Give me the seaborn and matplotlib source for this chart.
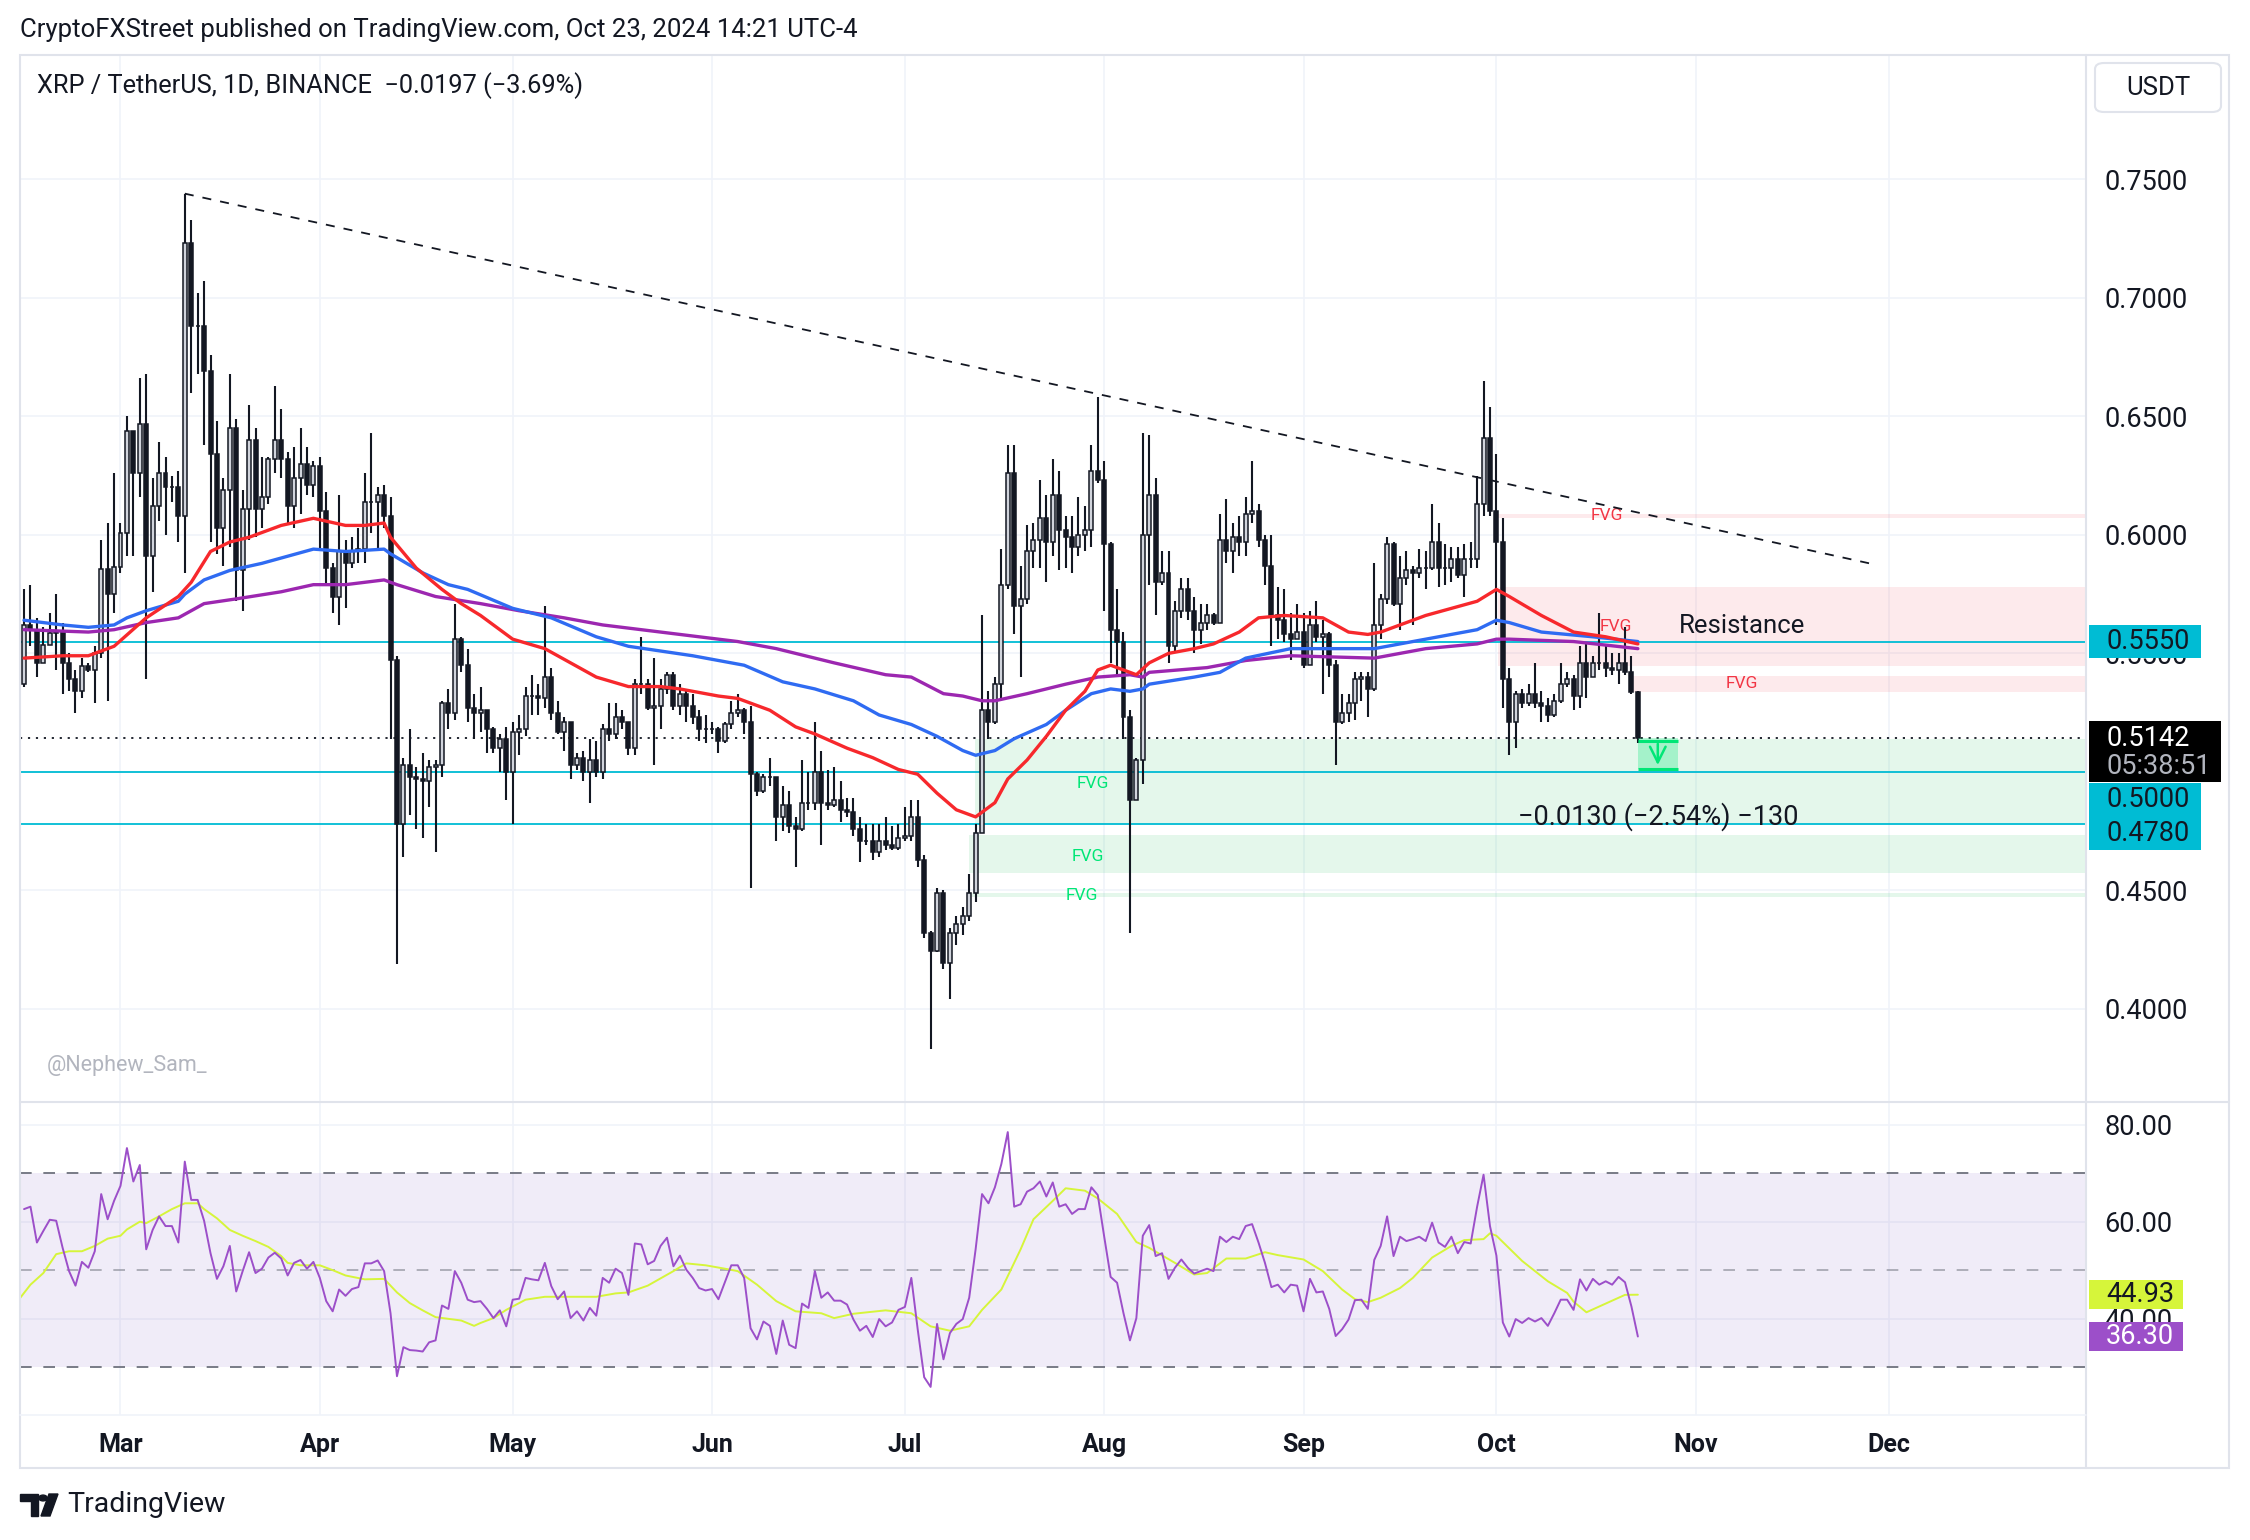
import numpy as np
import pandas as pd
import seaborn as sns
import matplotlib.pyplot as plt
import matplotlib.transforms as mtransforms
from matplotlib.patches import Rectangle, FancyBboxPatch, Circle, Polygon

sns.set_style('white')
plt.rcParams['font.family'] = ['Roboto', 'DejaVu Sans']

# ---- daily candles, day index 0 = 1 Mar 2024 (first candle 15 Feb, last 23 Oct) ----
first_day = -15
first_open = 0.537
closes = [
    .562, .560, .546, .5535, .5585, .559, .546, .539, .534, .5445, .543, .550, .5855, .575, .5865,
    .601, .644, .626, .647, .591, .612, .626, .620, .620, .608,
    .723, .688, .688, .669, .634, .603, .619, .645, .585, .611,
    .640, .611, .616, .632, .640, .632, .612, .624, .630, .621,
    .629, .610, .586, .574, .593, .588, .593, .594, .614, .614,
    .617, .608, .547, .478, .503, .498, .497, .496, .502, .503,
    .529, .525, .556, .545, .527, .525, .526, .518, .510, .514,
    .500, .517, .518, .532, .532, .531, .540, .525, .517, .521,
    .503, .506, .500, .505, .500, .518, .516, .523, .521, .510,
    .537, .537, .527, .528, .535, .541, .528, .533, .528, .523,
    .518, .518, .518, .513, .520, .525, .526, .521, .499, .492,
    .498, .498, .481, .486, .477, .476, .487, .487, .500, .487,
    .486, .488, .484, .483, .476, .471, .471, .466, .471, .469,
    .468, .472, .473, .481, .463, .432, .4245, .449, .4195, .432,
    .436, .439, .449, .474, .526, .521, .537, .579, .626, .570,
    .573, .593, .598, .607, .597, .617, .602, .599, .595, .600,
    .602, .627, .623, .596, .560, .555, .523, .488, .505, .600,
    .617, .580, .584, .553, .568, .577, .568, .560, .563, .566,
    .563, .598, .593, .599, .597, .609, .610, .598, .587, .566,
    .564, .558, .556, .559, .545, .562, .557, .558, .545, .521,
    .525, .529, .539, .540, .535, .562, .573, .596, .571, .582,
    .585, .584, .586, .586, .597, .586, .586, .590, .583, .590,
    .590, .613, .641, .610, .597, .539, .521, .533, .529, .533,
    .529, .528, .524, .530, .537, .539, .532, .546, .540, .546,
    .546, .544, .543, .546, .542, .5339, .5142,
]
highs = [
    .577, .579, .565, .561, .567, .575, .563, .550, .543, .548, .546, .553, .598, .605, .626,
    .605, .650, .644, .666, .668, .624, .639, .633, .625, .627,
    .744, .733, .702, .707, .676, .648, .624, .668, .649, .619,
    .655, .645, .633, .633, .663, .653, .635, .637, .645, .637,
    .631, .633, .618, .588, .617, .598, .599, .603, .626, .643,
    .620, .621, .616, .549, .506, .518, .502, .508, .505, .505,
    .530, .535, .571, .557, .552, .533, .536, .526, .519, .516,
    .519, .521, .524, .536, .541, .537, .570, .544, .530, .523,
    .521, .508, .509, .514, .513, .520, .529, .529, .526, .521,
    .539, .557, .539, .548, .539, .542, .542, .537, .535, .533,
    .526, .524, .521, .519, .521, .530, .533, .527, .528, .500,
    .499, .506, .497, .494, .492, .481, .505, .500, .521, .509,
    .501, .502, .496, .489, .489, .481, .478, .478, .478, .481,
    .477, .478, .485, .488, .488, .465, .433, .451, .450, .434,
    .439, .443, .457, .478, .566, .534, .540, .594, .638, .638,
    .587, .604, .605, .623, .617, .632, .627, .608, .608, .616,
    .612, .638, .658, .631, .597, .577, .559, .526, .506, .643,
    .642, .624, .593, .593, .572, .582, .582, .574, .571, .571,
    .567, .609, .615, .605, .608, .616, .631, .613, .600, .600,
    .578, .577, .567, .571, .567, .568, .572, .564, .559, .547,
    .533, .533, .542, .542, .542, .588, .575, .599, .597, .591,
    .593, .587, .594, .593, .613, .605, .596, .595, .595, .596,
    .597, .625, .665, .654, .634, .607, .544, .534, .535, .537,
    .546, .534, .531, .533, .546, .542, .541, .553, .555, .549,
    .567, .553, .550, .550, .561, .549, .534,
]
lows = [
    .536, .553, .540, .547, .554, .543, .533, .534, .525, .531, .542, .529, .548, .530, .567,
    .584, .591, .591, .616, .539, .576, .606, .600, .614, .597,
    .584, .660, .668, .638, .597, .592, .587, .595, .572, .568,
    .598, .599, .603, .613, .626, .624, .605, .603, .609, .617,
    .616, .594, .579, .567, .562, .569, .586, .588, .588, .601,
    .593, .603, .514, .419, .464, .482, .476, .472, .485, .466,
    .498, .518, .522, .542, .521, .514, .517, .508, .508, .500,
    .488, .478, .507, .515, .524, .524, .527, .522, .516, .509,
    .497, .501, .496, .487, .498, .497, .513, .514, .518, .507,
    .507, .533, .526, .503, .518, .533, .526, .524, .521, .520,
    .513, .512, .516, .508, .512, .518, .523, .516, .451, .490,
    .491, .494, .471, .475, .474, .460, .475, .484, .484, .469,
    .484, .485, .479, .481, .473, .462, .469, .463, .464, .467,
    .467, .467, .471, .471, .460, .430, .383, .424, .417, .404,
    .427, .431, .437, .445, .474, .514, .520, .530, .577, .558,
    .540, .571, .586, .586, .580, .591, .585, .586, .584, .591,
    .593, .595, .622, .568, .546, .541, .514, .432, .488, .495,
    .579, .566, .579, .546, .550, .565, .564, .550, .554, .560,
    .562, .563, .588, .584, .591, .591, .605, .595, .579, .553,
    .556, .555, .547, .563, .544, .546, .555, .533, .540, .503,
    .520, .521, .522, .530, .523, .534, .556, .571, .570, .560,
    .579, .562, .582, .577, .585, .578, .579, .580, .582, .574,
    .586, .586, .608, .608, .562, .527, .507, .510, .527, .528,
    .527, .521, .521, .523, .529, .536, .526, .527, .531, .542,
    .543, .540, .541, .537, .541, .533, .512,
]

# RSI(14), one value per candle
rsi_vals = [
    62.6, 63.1, 55.7, 58.1, 60.4, 60.2, 54.6, 49.8, 46.8, 51.7,
    50.5, 53.9, 65.7, 60.5, 64.3, 67.4, 75.2, 68.3, 71.7, 54.3,
    58.3, 61.1, 59.1, 59.1, 55.7, 72.4, 64.5, 64.5, 60.2, 53.5,
    48.2, 50.8, 55.0, 45.6, 49.8, 53.7, 49.4, 50.3, 52.6, 53.6,
    52.4, 48.9, 51.5, 52.1, 50.3, 51.7, 48.4, 43.6, 41.5, 46.0,
    44.7, 46.1, 46.5, 51.4, 51.4, 52.0, 49.8, 41.1, 28.1, 34.1,
    33.5, 33.4, 33.2, 35.1, 35.5, 42.7, 42.0, 49.8, 47.4, 43.9,
    43.4, 43.6, 42.0, 40.1, 41.7, 38.4, 43.9, 44.1, 48.4, 48.1,
    47.9, 51.5, 46.7, 44.0, 45.6, 40.1, 41.5, 39.6, 42.2, 40.6,
    48.4, 47.4, 50.3, 49.4, 44.9, 55.5, 55.3, 51.2, 51.9, 55.0,
    56.7, 50.8, 53.0, 50.1, 48.4, 46.3, 45.8, 46.1, 44.0, 47.5,
    51.0, 51.0, 48.4, 38.0, 35.7, 39.4, 38.5, 32.7, 39.6, 34.6,
    33.9, 43.1, 42.2, 49.8, 44.3, 45.4,
    43.7, 43.7, 42.9, 39.8, 37.5, 38.5, 36.2, 39.9, 38.4, 39.2,
    41.8, 42.4, 48.4, 37.7, 27.9, 25.9, 38.9, 31.6, 37.0, 38.9,
    39.9, 44.3, 54.3, 65.7, 63.8, 67.1, 71.9, 78.5, 63.1, 63.6,
    66.2, 66.9, 68.3, 65.2, 68.1, 63.1, 63.6, 61.6, 62.6, 62.6,
    67.1, 65.5, 56.9, 48.6, 47.4, 41.1, 35.5, 40.1, 57.1, 59.3,
    52.9, 53.5, 48.2, 50.5, 52.2, 50.5, 49.3, 49.8, 50.3, 49.8,
    56.9, 55.8, 56.9, 56.4, 59.1, 59.5, 55.7, 51.5, 46.5, 47.0,
    45.4, 47.0, 46.8, 41.5, 48.2, 45.4, 45.6, 42.0, 36.4, 37.8,
    39.8, 43.8, 43.9, 42.0, 52.1, 55.0, 61.1, 52.9, 56.9, 56.0,
    56.4, 56.9, 56.0, 59.8, 55.7, 54.8, 56.9, 53.5, 55.8, 55.5,
    63.1, 69.7, 59.1, 53.0, 39.2, 36.3, 39.9, 39.1, 40.1, 39.4,
    40.1, 38.5, 41.1, 43.9, 43.9, 41.8, 48.1, 45.8, 48.2, 47.0,
    47.7, 47.0, 48.6, 47.5, 42.5, 36.3,
]

# RSI-based moving average (yellow), read at sample days
sig_days = [-16, -14, -12, -10, -8, -6, -4, -2, 0, 1, 3, 4, 6, 8, 10, 12, 13, 15, 17, 19,
            21, 23, 25, 26, 28, 31, 33, 35, 38, 41, 43, 45, 47, 49, 53, 55, 56, 58, 60, 63,
            66, 70, 74, 77, 79, 82, 86, 88, 91, 94, 96, 99, 102, 105, 109, 111, 114, 119, 123, 126,
            129, 132, 134, 137, 140, 142, 145, 147, 150, 152, 155, 158, 160, 164, 167, 169, 172, 175, 178, 180,
            184, 187, 190, 192, 194, 196, 199, 201, 204, 207, 209, 212, 213, 214, 218, 222, 225, 226, 228, 231,
            234, 236]
sig_vals = [43.6, 47.0, 49.4, 53.3, 53.9, 53.9, 55.0, 56.5, 57.1, 58.4, 60.0, 59.7, 61.1, 62.6, 63.8, 63.8, 62.6, 60.7, 58.3, 57.1,
            56.0, 54.8, 52.9, 51.5, 51.0, 51.0, 50.0, 48.9, 48.1, 48.2, 45.4, 43.2, 41.7, 40.3, 39.6, 38.5, 39.1, 40.1, 41.8, 43.9,
            44.5, 44.5, 44.5, 45.2, 45.4, 46.8, 49.8, 51.4, 51.0, 50.3, 49.8, 47.0, 43.6, 41.5, 41.1, 40.1, 41.0, 41.7, 41.1, 38.4,
            37.5, 38.4, 41.8, 46.0, 54.3, 60.5, 64.3, 66.9, 66.4, 64.8, 61.6, 55.8, 54.6, 51.5, 49.1, 49.4, 52.4, 52.4, 53.7, 53.1,
            52.2, 49.8, 46.0, 44.0, 43.4, 44.3, 46.3, 48.4, 52.6, 55.0, 56.2, 56.4, 57.6, 57.1, 51.9, 47.7, 45.3, 43.5, 41.3, 43.1,
            44.9, 44.93]

# moving averages read at sample days
red_days = [-15, -9, -5, -1, 4, 9, 11, 14, 17, 20, 25, 30, 35, 38, 41, 42, 46, 50, 53, 56,
            61, 66, 70, 74, 79, 84, 87, 93, 96, 101, 105, 108, 113, 117, 121, 124, 127, 130, 133, 136,
            138, 141, 144, 147, 150, 152, 154, 156, 158, 160, 163, 167, 170, 174, 177, 181, 187, 191, 194, 196,
            203, 211, 214, 216, 221, 226, 231, 236]
red_vals = [.548, .549, .549, .553, .565, .574, .580, .593, .597, .599, .604, .607, .604, .604, .605, .599, .586, .577, .571, .566,
            .556, .552, .546, .540, .536, .536, .535, .532, .531, .526, .519, .516, .510, .506, .501, .499, .491, .484, .481, .487,
            .497, .505, .515, .526, .534, .543, .545, .543, .541, .546, .550, .552, .554, .559, .565, .566, .565, .559, .558, .559,
            .566, .572, .577, .574, .566, .559, .557, .554]
blue_days = [-15, -9, -5, -1, 1, 4, 9, 10, 13, 17, 22, 30, 35, 41, 42, 47, 51, 54, 61, 67,
             74, 79, 84, 89, 97, 103, 108, 114, 118, 123, 127, 131, 133, 136, 139, 144, 147, 151, 154, 157,
             159, 160, 167, 171, 175, 182, 187, 195, 197, 211, 214, 216, 221, 229, 236]
blue_vals = [.564, .562, .561, .562, .565, .568, .572, .575, .581, .585, .588, .594, .593, .594, .592, .584, .579, .577, .569, .565,
             .557, .553, .551, .549, .545, .538, .535, .530, .524, .520, .515, .509, .507, .509, .514, .520, .526, .533, .535, .534,
             .535, .537, .540, .542, .548, .552, .552, .552, .553, .560, .564, .563, .559, .557, .555]
purple_days = [-15, -5, -1, 4, 9, 13, 18, 25, 30, 35, 41, 43, 49, 56, 62, 69, 75, 84, 96, 102,
               111, 119, 123, 128, 131, 134, 136, 141, 147, 152, 157, 159, 160, 169, 175, 182, 195, 203, 211, 214,
               216, 226, 236]
purple_vals = [.560, .559, .560, .563, .565, .571, .573, .576, .579, .579, .581, .579, .574, .571, .568, .565, .562, .559, .555, .552,
               .546, .541, .540, .533, .532, .530, .530, .533, .537, .540, .541, .540, .542, .544, .547, .549, .548, .552, .554, .556,
               .556, .555, .552]

# drawings
trend_days = [10, 272]
trend_prices = [0.744, 0.588]
levels = [0.555, 0.500, 0.478]
last_price = 0.5142
measure_change = -0.0130
red_fvg = [(214.3, 0.6071, 0.6089), (214.3, 0.5445, 0.5780), (234.8, 0.5339, 0.5403)]
green_fvg = [(132.9, 0.4780, 0.5138), (131.9, 0.4575, 0.4735), (132.5, 0.4474, 0.4489)]

month_days = [0, 31, 61, 92, 122, 153, 184, 214, 245, 275]
month_labels = ['Mar', 'Apr', 'May', 'Jun', 'Jul', 'Aug', 'Sep', 'Oct', 'Nov', 'Dec']
price_ticks = [0.40, 0.45, 0.50, 0.55, 0.60, 0.65, 0.70, 0.75]
rsi_ticks = [40, 60, 80]

# ---- frame ----
W, H = 2250, 1540
def fx(px):
    return px / W
def fy(py):
    return 1 - py / H

TXT = '#131722'
AXFS = 19.5
fig = plt.figure(figsize=(22.5, 15.4), dpi=100)
fig.patch.set_facecolor('white')
ax = fig.add_axes([fx(20), fy(1102), fx(2086) - fx(20), fy(55) - fy(1102)])
rax = fig.add_axes([fx(20), fy(1415), fx(2086) - fx(20), fy(1103) - fy(1415)], sharex=ax)

days = np.arange(first_day, first_day + len(closes))
df = pd.DataFrame({'day': days, 'close': closes, 'high': highs, 'low': lows})
df['open'] = [first_open] + closes[:-1]
df['top'] = df[['open', 'close', 'high']].max(axis=1)
df['bot'] = df[['open', 'close', 'low']].min(axis=1)
up = df[df['close'] >= df['open']]
dn = df[df['close'] < df['open']]

ext = 305.7
for a in (ax, rax):
    a.set_xlim(-15.63, ext)
    a.set_facecolor('white')
    for s in a.spines.values():
        s.set_visible(False)
    a.set_xticks(month_days)
    a.grid(True, color='#f0f3fa', lw=1.2)
    a.set_axisbelow(True)

# zones
for d0, lo, hi in red_fvg:
    ax.add_patch(Rectangle((d0, lo), ext - d0, hi - lo, facecolor='#f23645', alpha=0.1, lw=0, zorder=1))
for d0, lo, hi in green_fvg:
    ax.add_patch(Rectangle((d0, lo), ext - d0, hi - lo, facecolor='#22c55e', alpha=0.12, lw=0, zorder=1))

for lv in levels:
    ax.axhline(lv, color='#00bcd4', lw=1.3, zorder=2)
ax.axhline(last_price, color='#131722', lw=1.3, ls=(0, (1.2, 3.2)), zorder=2)

# candles
ax.vlines(df['day'], df['bot'], df['top'], color='#131722', lw=1.5, zorder=3)
ax.bar(up['day'], up['close'] - up['open'], bottom=up['open'], width=0.62,
       color='#d1d4dc', edgecolor='#131722', lw=1.1, zorder=4)
ax.bar(dn['day'], dn['open'] - dn['close'], bottom=dn['close'], width=0.62,
       color='#131722', edgecolor='#131722', lw=1.1, zorder=4)

# moving averages
sns.lineplot(x=purple_days, y=purple_vals, ax=ax, color='#9c27b0', lw=2.4, zorder=5)
sns.lineplot(x=blue_days, y=blue_vals, ax=ax, color='#2f6bf2', lw=2.4, zorder=5)
sns.lineplot(x=red_days, y=red_vals, ax=ax, color='#f7282c', lw=2.4, zorder=5)

ax.plot(trend_days, trend_prices, color='#131722', lw=1.3, ls=(0, (5, 5)), zorder=5)

# labels in the pane
fvg_fs = 12.5
ax.text(231.2, 0.6080, 'FVG', color='#f23645', fontsize=fvg_fs, ha='center', va='center', zorder=2)
ax.text(232.6, 0.5614, 'FVG', color='#f23645', fontsize=fvg_fs, ha='center', va='center', zorder=2)
ax.text(252.2, 0.5372, 'FVG', color='#f23645', fontsize=fvg_fs, ha='center', va='center', zorder=2)
ax.text(151.3, 0.4953, 'FVG', color='#00e676', fontsize=fvg_fs, ha='center', va='center', zorder=2)
ax.text(150.4, 0.4645, 'FVG', color='#00e676', fontsize=fvg_fs, ha='center', va='center', zorder=2)
ax.text(149.5, 0.4480, 'FVG', color='#00e676', fontsize=fvg_fs, ha='center', va='center', zorder=2)
ax.text(252.2, 0.5617, 'Resistance', color=TXT, fontsize=18.5, ha='center', va='center', zorder=6)

# measure tool
m_lo = last_price + measure_change
ax.add_patch(Rectangle((236, m_lo), 6.2, -measure_change, facecolor='#00e676', alpha=0.28, lw=0, zorder=6))
ax.hlines([m_lo, last_price - 0.0012], 236, 242.2, color='#00e676', lw=2.2, zorder=7)
ax.annotate('', xy=(239.1, m_lo + 0.0005), xytext=(239.1, last_price - 0.0012),
            arrowprops=dict(arrowstyle='->', color='#00e676', lw=1.8, mutation_scale=28), zorder=7)
ax.text(239.2, 0.4812, '\u22120.0130 (\u22122.54%) \u2212130', color=TXT, fontsize=19.5,
        ha='center', va='center', zorder=7)
ax.text(0.013, 0.035, '@Nephew_Sam_', transform=ax.transAxes, color='#b2b5be', fontsize=15.5,
        ha='left', va='center')

ax.set_ylim(0.3607, 0.8025)
ax.set_yticks(price_ticks)
ax.yaxis.tick_right()
ax.set_yticklabels([f'{v:.4f}' for v in price_ticks])
ax.tick_params(axis='y', length=0, pad=13, labelsize=AXFS, colors=TXT)
ax.tick_params(axis='x', length=0, labelbottom=False)
ax.set_xlabel('')
ax.set_ylabel('')

# RSI pane
rax.axhspan(30, 70, color='#7e57c2', alpha=0.11, lw=0, zorder=1)
rax.axhline(70, color='#787b86', lw=1.4, ls=(0, (6, 6)), zorder=2)
rax.axhline(30, color='#787b86', lw=1.4, ls=(0, (6, 6)), zorder=2)
rax.axhline(50, color='#787b86', alpha=0.55, lw=1.4, ls=(0, (6, 6)), zorder=2)
sns.lineplot(x=days, y=rsi_vals, ax=rax, color='#9c4fc9', lw=1.4, zorder=4)
sns.lineplot(x=sig_days, y=sig_vals, ax=rax, color='#d6f53a', lw=1.4, zorder=3)
rax.set_ylim(20.1, 84.5)
rax.set_yticks(rsi_ticks)
rax.yaxis.tick_right()
rax.set_yticklabels([f'{v:.2f}' for v in rsi_ticks])
rax.tick_params(axis='y', length=0, pad=13, labelsize=AXFS, colors=TXT)
rax.set_xticklabels(month_labels)
rax.tick_params(axis='x', length=0, pad=13, labelsize=18, colors=TXT)
for lab in rax.get_xticklabels():
    lab.set_fontweight('bold')
rax.set_xlabel('')
rax.set_ylabel('')

# axis tags
def tag(a, yc, h, text, bg, fg, x1, sub=None):
    tr = mtransforms.blended_transform_factory(a.transAxes, a.transData)
    a.add_patch(Rectangle((1.0015, yc - h / 2), x1 - 1.0015, h, transform=tr, facecolor=bg,
                          edgecolor='none', clip_on=False, zorder=10))
    if sub is None:
        a.text(1.0097, yc, text, transform=tr, color=fg, fontsize=AXFS, ha='left', va='center',
               clip_on=False, zorder=11)
    else:
        a.text(1.0097, yc + h * 0.22, text, transform=tr, color=fg, fontsize=AXFS, ha='left',
               va='center', clip_on=False, zorder=11)
        a.text(1.0097, yc - h * 0.24, sub, transform=tr, color='#b2b5be', fontsize=AXFS, ha='left',
               va='center', clip_on=False, zorder=11)

ppx = (0.8025 - 0.3607) / (1102 - 55)
tag(ax, 0.555, 33 * ppx, '0.5550', '#00bcd4', TXT, 1.0555)
tag(ax, 0.75 - (752 - 179.4) / 2370, 61 * ppx, '0.5142', '#000000', 'white', 1.0655, sub='05:38:51')
tag(ax, 0.75 - (800 - 179.4) / 2370, 34 * ppx, '0.5000', '#00bcd4', TXT, 1.0555)
tag(ax, 0.75 - (834 - 179.4) / 2370, 33 * ppx, '0.4780', '#00bcd4', TXT, 1.0555)
rpx = (84.5 - 20.1) / (1415 - 1103)
tag(rax, 45.0, 29 * rpx, '44.93', '#d6f53a', TXT, 1.0470)
tag(rax, 36.3, 29 * rpx, '36.30', '#9c4fc9', 'white', 1.0470)

# chrome
border = '#e0e3eb'
fig.add_artist(Rectangle((fx(20), fy(1468)), fx(2229) - fx(20), fy(55) - fy(1468), fill=False,
                         edgecolor=border, lw=1.5, transform=fig.transFigure))
fig.add_artist(plt.Line2D([fx(20), fx(2229)], [fy(1102), fy(1102)], color=border, lw=1.5))
fig.add_artist(plt.Line2D([fx(2086), fx(2086)], [fy(55), fy(1468)], color=border, lw=1.5))
fig.add_artist(plt.Line2D([fx(20), fx(2086)], [fy(1415), fy(1415)], color='#f0f3fa', lw=1.2))

fig.text(fx(20), fy(30), 'CryptoFXStreet published on TradingView.com, Oct 23, 2024 14:21 UTC-4',
         fontsize=18.5, color=TXT, ha='left', va='center')
fig.text(fx(37), fy(86), 'XRP / TetherUS, 1D, BINANCE  \u22120.0197 (\u22123.69%)',
         fontsize=18.3, color=TXT, ha='left', va='center')
fig.add_artist(FancyBboxPatch((fx(2095), fy(112)), fx(2221) - fx(2095), fy(63) - fy(112),
                              boxstyle='round,pad=0,rounding_size=0.004', fill=False,
                              edgecolor=border, lw=1.5, transform=fig.transFigure))
fig.text(fx(2158), fy(88), 'USDT', fontsize=18.5, color=TXT, ha='center', va='center')

# TradingView logo
fig.add_artist(Polygon([(fx(20), fy(1494)), (fx(38), fy(1494)), (fx(38), fy(1516)), (fx(31), fy(1516)),
                        (fx(31), fy(1501)), (fx(20), fy(1501))], closed=True, color=TXT, transform=fig.transFigure))
fig.add_artist(Circle((fx(43), fy(1498)), 0.0019, color=TXT, transform=fig.transFigure))
fig.add_artist(Polygon([(fx(49), fy(1494)), (fx(58), fy(1494)), (fx(50), fy(1516)), (fx(41), fy(1516))],
                       closed=True, color=TXT, transform=fig.transFigure))
fig.text(fx(67), fy(1505), 'TradingView', fontsize=20.5, color=TXT, ha='left', va='center')

fig.savefig('out.png', dpi=100, facecolor='white')
